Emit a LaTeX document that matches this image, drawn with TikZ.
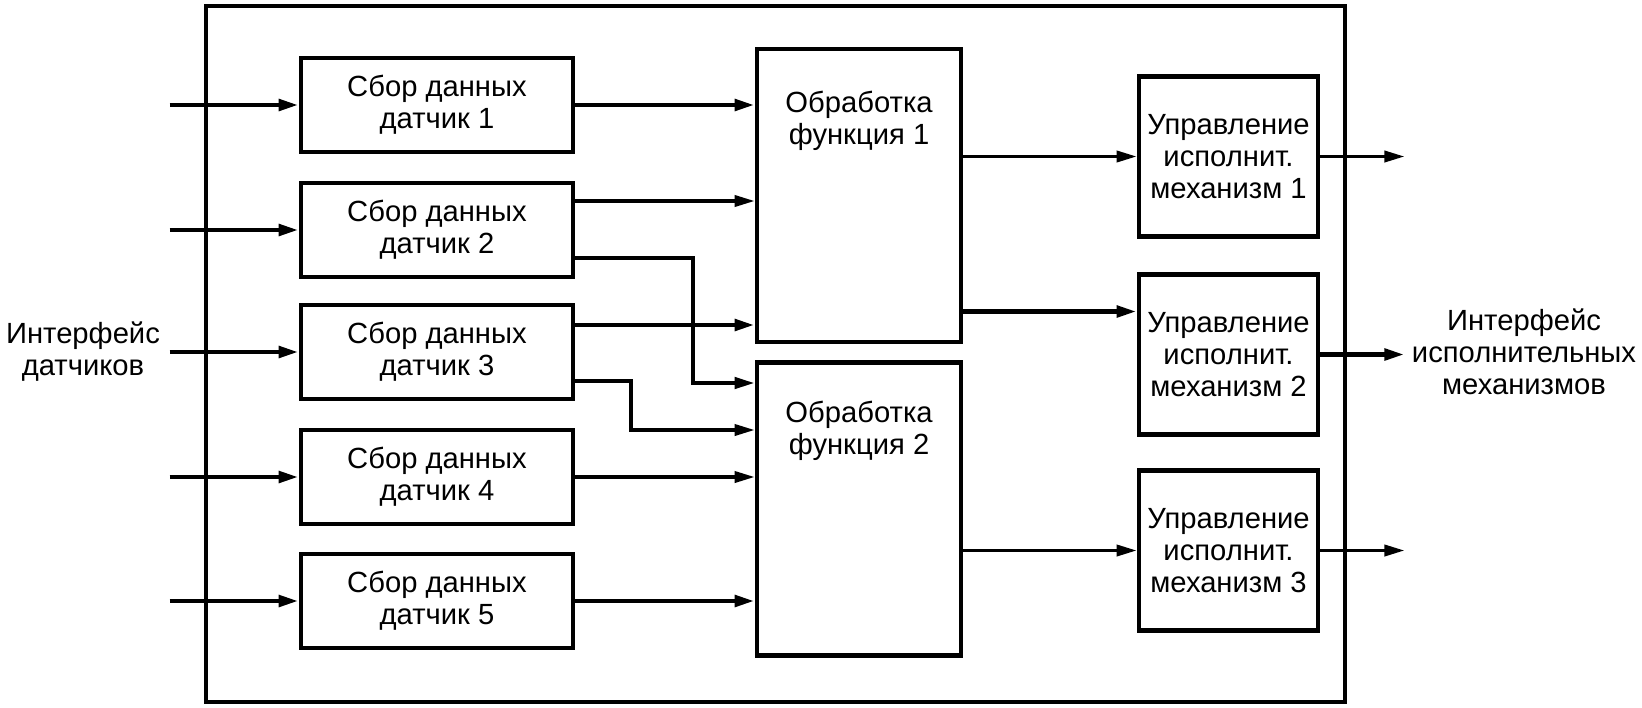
\documentclass[tikz,border=0pt]{standalone}
\usepackage{fontspec}
\setmainfont{Liberation Sans}
\usetikzlibrary{arrows.meta}

\begin{document}
\begin{tikzpicture}[x=0.5pt, y=-0.5pt,
  every node/.style = {align=center, inner sep=0pt,
    font=\fontsize{14.6}{16}\selectfont},
  box/.style = {shape=rectangle, draw, line width=2.4pt},
  sensor/.style = {box, minimum width=136pt, minimum height=47pt},
  proc/.style = {box, minimum width=102pt, minimum height=146.5pt},
  actuator/.style = {box, minimum width=89.5pt, minimum height=80pt},
  thickarrow/.style = {line width=2.3pt, -{Triangle[length=10pt,width=5.6pt]}},
  thinarrow/.style = {line width=1.6pt, -{Triangle[length=10pt,width=5.6pt]}}]
    \useasboundingbox (0,0) rectangle (1642,707);
    % outer frame
    \draw[line width=2pt] (206,6) rectangle (1345,702);

    % sensors
    \node[sensor] (s1) at (437,105) {Сбор данных\\датчик 1};
    \node[sensor] (s2) at (437,230) {Сбор данных\\датчик 2};
    \node[sensor] (s3) at (437,352) {Сбор данных\\датчик 3};
    \node[sensor] (s4) at (437,477) {Сбор данных\\датчик 4};
    \node[sensor] (s5) at (437,601) {Сбор данных\\датчик 5};

    % processing
    \node[proc] (p1) at (859,195.5) {};
    \node (p1t) at (859,121) {Обработка\\функция 1};
    \node[proc] (p2) at (859,509) {};
    \node (p2t) at (859,431) {Обработка\\функция 2};

    % actuators
    \node[actuator] (a1) at (1228.5,156.5) {Управление\\исполнит.\\механизм 1};
    \node[actuator] (a2) at (1228.5,354.5) {Управление\\исполнит.\\механизм 2};
    \node[actuator] (a3) at (1228.5,550.5) {Управление\\исполнит.\\механизм 3};

    % interfaces
    \node (inif) at (83,352) {Интерфейс\\датчиков};
    \node (outif) at (1524,352) {Интерфейс\\исполнительных\\механизмов};

    % inputs
    \foreach \i in {1,...,5} {
        \coordinate (i\i) at ([xshift=-64.5pt]s\i.west);
        \draw[thickarrow] (i\i) -- (s\i);
    }

    % sensors to processing
    \draw[thickarrow] (s1.east) -- (p1.west |- s1.east);
    \coordinate (s2a) at ([yshift=14.5pt]s2.east);
    \draw[thinarrow] (s2a) -- (p1.west |- s2a);
    \coordinate (s3a) at ([yshift=13.5pt]s3.east);
    \draw[thickarrow] (s3a) -- (p1.west |- s3a);
    \draw[line width=2pt, -{Triangle[length=10pt,width=5.6pt]}]
        ([yshift=-14pt]s2.east) -| (693,383) -- ([yshift=63pt]p2.west);
    \draw[thinarrow] ([yshift=-14.5pt]s3.east) -| (631,430) -- ([yshift=39.5pt]p2.west);
    \draw[thinarrow] (s4.east) -- (p2.west |- s4.east);
    \draw[thickarrow] (s5.east) -- (p2.west |- s5.east);

    % processing to actuators
    \draw[thinarrow] (p1.east |- a1.west) -- (a1.west);
    \coordinate (p1b) at ([yshift=-58pt]p1.east);
    \draw[thickarrow] (p1b) -- (p1b -| a2.west);
    \draw[thinarrow] (p2.east |- a3.west) -- (a3.west);

    % outputs
    \foreach \i/\s in {1/thinarrow,2/thickarrow,3/thinarrow} {
        \coordinate (o\i) at ([xshift=42pt]a\i.east);
        \draw[\s] (a\i) -- (o\i);
    }
\end{tikzpicture}
\end{document}
